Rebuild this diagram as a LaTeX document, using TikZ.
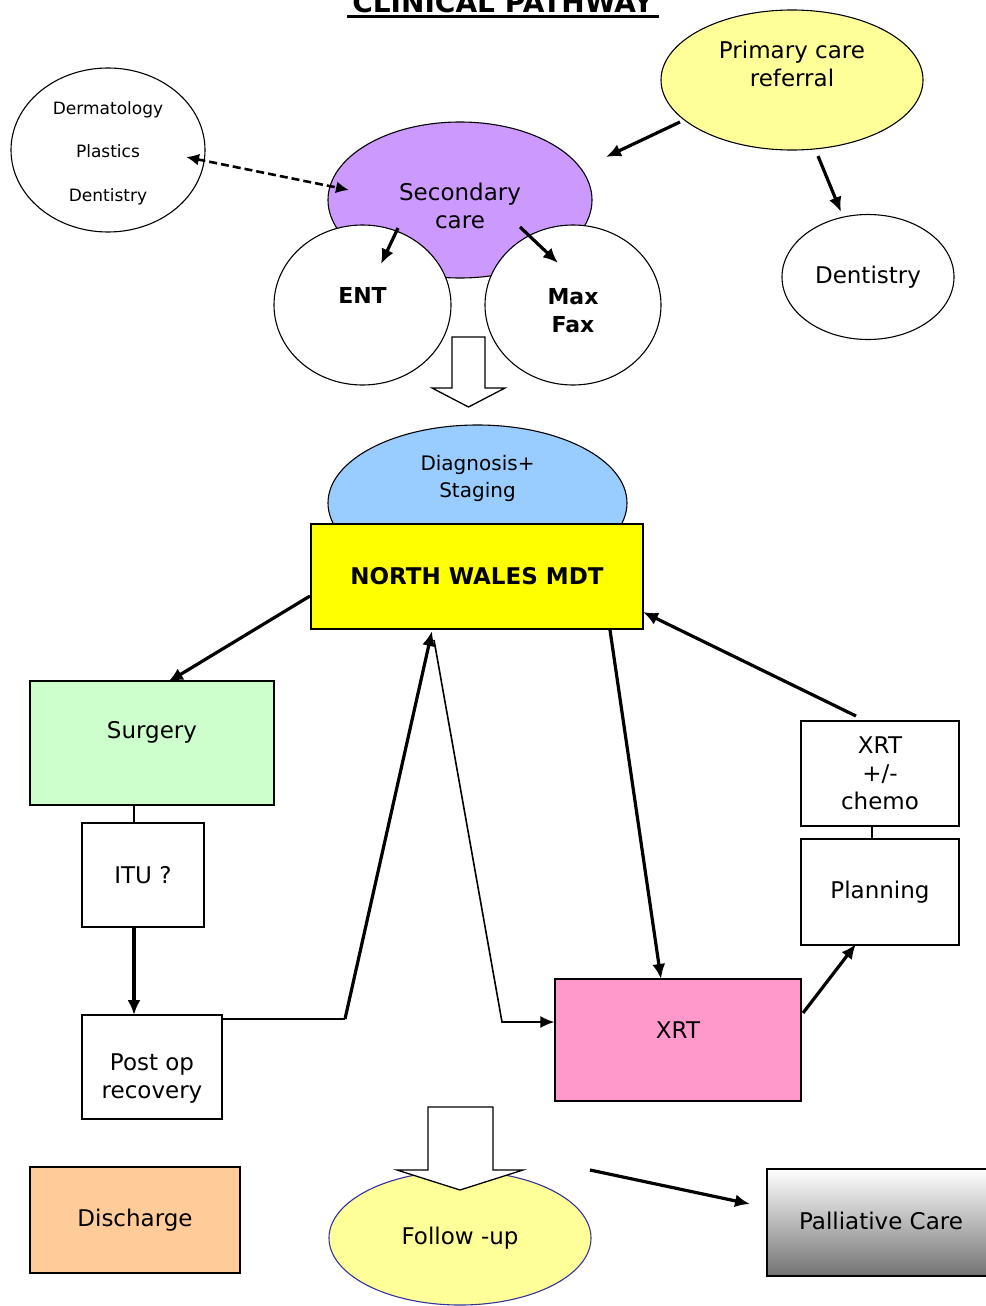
\documentclass[tikz,border=0pt]{standalone}
\usepackage{fontspec}
\setmainfont{DejaVu Sans}
\usetikzlibrary{arrows.meta,shapes.geometric,calc}
\definecolor{paleyellow}{HTML}{FFFF99}
\definecolor{lilac}{HTML}{CC99FF}
\definecolor{skyblue}{HTML}{99CCFF}
\definecolor{mdtyellow}{HTML}{FFFF00}
\definecolor{mint}{HTML}{CCFFCC}
\definecolor{rosepink}{HTML}{FF99CC}
\definecolor{peach}{HTML}{FFCC99}
\definecolor{navyline}{HTML}{333399}
\begin{document}
\begin{tikzpicture}[x=1pt,y=-1pt,
  ell/.style={ellipse, draw, line width=1.1pt, inner sep=0pt},
  box/.style={rectangle, draw, line width=1.3pt, inner sep=0pt},
  t23/.style={font=\fontsize{23}{28}\selectfont, align=center},
  t20/.style={font=\fontsize{20}{27}\selectfont, align=center},
  tb/.style={font=\bfseries\fontsize{22}{28}\selectfont, align=center},
  arr/.style={line width=3.2pt, -{Latex[length=15pt,width=13pt]}},
  thinarr/.style={line width=1.6pt, -{Latex[length=14pt,width=12pt]}},
  link/.style={line width=1.3pt},
  blockarrow/.style={draw, fill=white, line width=1.3pt}
]
\useasboundingbox (0,0) rectangle (985,1306);

% title
\node[anchor=base, inner sep=0pt, font=\bfseries\fontsize{28}{30}\selectfont] (title) at (503,13) {CLINICAL PATHWAY};
\draw[line width=2.6pt] (347,16.5) -- (659,16.5);

% top ellipses
\node[ell, fill=paleyellow, minimum width=262pt, minimum height=140pt, label={[t23, yshift=16pt]center:Primary care\\referral}] (prim) at (792,80) {};
\node[ell, minimum width=194pt, minimum height=164pt, label={[font=\fontsize{17}{43.5}\selectfont, align=center, yshift=-3pt]center:Dermatology\\Plastics\\Dentistry}] (derm) at (108,150) {};
\node[ell, minimum width=172pt, minimum height=125pt, t23] (dent) at (868,277) {Dentistry};

% secondary care blob
\node[ell, fill=lilac, minimum width=264pt, minimum height=156pt, label={[t23, yshift=-6pt]center:Secondary\\care}] (sec) at (460,200) {};
\node[ell, fill=white, minimum width=177pt, minimum height=160pt, label={[tb, yshift=10pt]center:ENT}] (ent) at (362.5,305) {};
\node[ell, fill=white, minimum width=176pt, minimum height=160pt, label={[tb, yshift=-6pt]center:Max\\Fax}] (maxfax) at (573,305) {};

% block arrow down
\draw[blockarrow] (452,337) -- (485,337) -- (485,388) -- (505,388) -- (468.5,407) -- (432,388) -- (452,388) -- cycle;

% diagnosis + MDT
\node[ell, fill=skyblue, minimum width=299pt, minimum height=156pt, label={[t20, yshift=25pt]center:Diagnosis+\\Staging}] (diag) at (477.5,503) {};
\node[box, fill=mdtyellow, minimum width=332pt, minimum height=105pt, font=\bfseries\fontsize{23}{28}\selectfont] (mdt) at (477,576.5) {NORTH WALES MDT};

% left column
\node[box, fill=mint, minimum width=244pt, minimum height=124pt, label={[t23, yshift=11pt]center:Surgery}] (surg) at (152,743) {};
\node[box, minimum width=122pt, minimum height=104pt, t23] (itu) at (143,875) {ITU ?};
\node[box, minimum width=140pt, minimum height=104pt, label={[t23, yshift=-11pt]center:Post op\\recovery}] (postop) at (152,1067) {};
\node[box, fill=peach, minimum width=210pt, minimum height=106pt, t23] (disch) at (135,1220) {Discharge};

% right column
\node[box, minimum width=158pt, minimum height=105pt, t23] (chemo) at (880,773.5) {XRT\\+/-\\chemo};
\node[box, minimum width=158pt, minimum height=106pt, t23] (plan) at (880,892) {Planning};
\node[box, fill=rosepink, minimum width=246pt, minimum height=122pt, label={[t23, yshift=10pt]center:XRT}] (xrt) at (678,1040) {};
\node[box, top color=white, bottom color=black!55, minimum width=228pt, minimum height=107pt, label={[t23, yshift=2pt]center:Palliative Care}] (pall) at (881,1222.5) {};

% follow-up
\node[ell, draw=navyline, fill=paleyellow, minimum width=262pt, minimum height=134pt, t23] (follow) at (460,1238) {Follow -up};
\draw[blockarrow] (428,1107) -- (493,1107) -- (493,1170) -- (523,1170) -- (460,1190) -- (397,1170) -- (428,1170) -- cycle;

% named connector ends
\coordinate (p1) at (680,122);  \coordinate (p2) at (606,157);
\coordinate (p3) at (818,156);  \coordinate (p4) at (841,212);
\coordinate (d1) at (186,157);  \coordinate (d2) at (349,190);
\coordinate (s1) at (398,228);  \coordinate (s2) at (381,264);
\coordinate (s3) at (520,227);  \coordinate (s4) at (558,263);
\coordinate (m1) at (310,596);  \coordinate (m2) at (168,682);
\coordinate (u1) at (345,1019); \coordinate (u2) at (432,631);
\coordinate (v1) at (434,640);  \coordinate (v2) at (502,1022);
\coordinate (w1) at (610,630);  \coordinate (w2) at (661,979);
\coordinate (x1) at (803,1013); \coordinate (x2) at (856,944);
\coordinate (c1) at (856,716);  \coordinate (c2) at (643,612);
\coordinate (f1) at (590,1170); \coordinate (f2) at (750,1204);
\coordinate (i1) at (134,805);  \coordinate (i2) at (134,1015);

% connectors
\draw[arr] (p1) -- (p2);
\draw[arr] (p3) -- (p4);
\draw[line width=2.6pt, dash pattern=on 8pt off 4pt, {Latex[length=13pt,width=12pt]}-{Latex[length=13pt,width=12pt]}] (d1) -- (d2);
\draw[arr] (s1) -- (s2);
\draw[arr] (s3) -- (s4);
\draw[arr] (m1) -- (m2);
\draw[link] (i1) -- (i1 |- itu.north);
\draw[arr] (i1 |- itu.south) -- (i2);
\draw[link] (postop.north east |- u1) -- (u1);
\draw[arr] (u1) -- (u2);
\draw[thinarr] (v1) -- (v2) -- (v2 -| xrt.west);
\draw[arr] (w1) -- (w2);
\draw[arr] (x1) -- (x2);
\draw[link] (chemo.south -| 872,0) -- (plan.north -| 872,0);
\draw[arr] (c1) -- (c2);
\draw[arr] (f1) -- (f2);
\end{tikzpicture}
\end{document}
